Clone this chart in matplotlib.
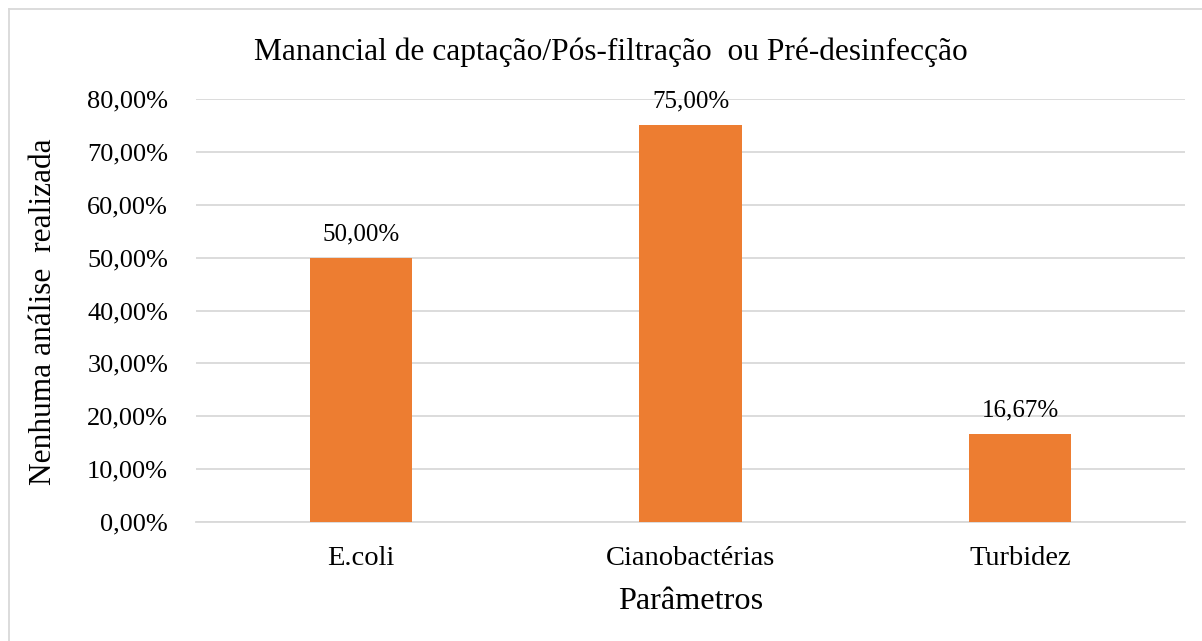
import matplotlib
matplotlib.use('agg')
import matplotlib.pyplot as plt
from matplotlib.lines import Line2D
import matplotlib.ticker as tick

plt.rcParams['font.family'] = ['Liberation Serif', 'DejaVu Serif']

categories = ['E.coli', 'Cianobactérias', 'Turbidez']
values = [50.00, 75.00, 16.67]
y_ticks = [0, 10, 20, 30, 40, 50, 60, 70, 80]

bar_color = '#ED7D31'
grid_color = '#D9D9D9'

fig = plt.figure(figsize=(12.02, 6.41), dpi=100)
ax = fig.add_axes([0.163, 0.1856, 0.823, 0.66])

x = range(len(categories))
ax.bar(x, values, width=0.31, color=bar_color, zorder=3)

for xi, v in zip(x, values):
    ax.annotate(('%.2f%%' % v).replace('.', ','), (xi, v), xytext=(0, 9),
                textcoords='offset points', ha='center', va='bottom', fontsize=18)

ax.set_xlim(-0.5, 2.5)
ax.set_ylim(0, 80)
ax.set_yticks(y_ticks)
ax.yaxis.set_major_formatter(tick.FuncFormatter(lambda v, p: ('%.2f%%' % v).replace('.', ',')))
ax.set_xticks(list(x))
ax.set_xticklabels(categories)
ax.tick_params(axis='y', length=0, pad=20, labelsize=19)
ax.tick_params(axis='x', length=0, pad=17, labelsize=20.5)
ax.grid(axis='y', color=grid_color, lw=1.3, zorder=0)
for s in ['top', 'right', 'left']:
    ax.spines[s].set_visible(False)
ax.spines['bottom'].set_color(grid_color)
ax.spines['bottom'].set_linewidth(1.3)

fig.text(0.508, 0.919, 'Manancial de captação/Pós-filtração  ou Pré-desinfecção',
         ha='center', va='center', fontsize=22.6)
fig.text(0.036, 0.513, 'Nenhuma análise  realizada', rotation=90,
         ha='center', va='center', fontsize=22.6)
fig.text(0.5745, 0.061, 'Parâmetros', ha='center', va='center', fontsize=23.2)

# chart area border (only left/top visible in the crop)
fig.add_artist(Line2D([0.0075, 0.0075], [0, 0.986], color='#D9D9D9', lw=1.3,
                      transform=fig.transFigure))
fig.add_artist(Line2D([0.0075, 1.0], [0.986, 0.986], color='#D9D9D9', lw=1.3,
                      transform=fig.transFigure))

fig.savefig('out.png', dpi=100)
